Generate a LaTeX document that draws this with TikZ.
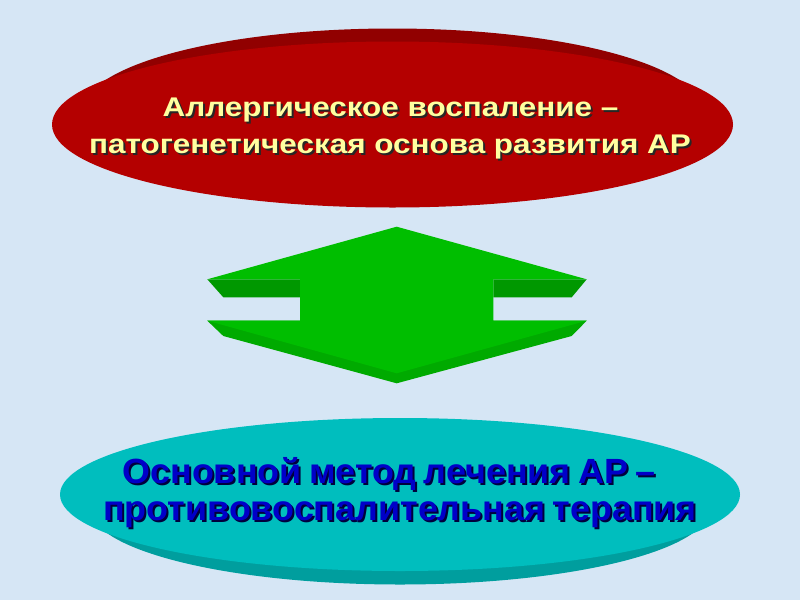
\documentclass[tikz,border=0pt]{standalone}
\usepackage{fontspec}
\setmainfont{Liberation Sans}
\newfontfamily\redfont[FakeStretch=1.165]{Liberation Sans}
\newfontfamily\bluefont[FakeStretch=1.025,WordSpace=0.75]{Liberation Sans}
\usetikzlibrary{shapes.geometric}
\definecolor{bg}{RGB}{214,230,245}
\definecolor{redface}{RGB}{180,0,0}
\definecolor{redband}{RGB}{145,0,0}
\definecolor{cyanface}{RGB}{0,190,190}
\definecolor{cyanband}{RGB}{0,158,158}
\definecolor{greenface}{RGB}{0,190,0}
\definecolor{greendark}{RGB}{0,152,0}
\definecolor{greenmid}{RGB}{0,170,0}
\definecolor{cream}{RGB}{255,255,160}
\definecolor{bluetext}{RGB}{0,0,200}
\definecolor{navyshadow}{RGB}{0,0,60}
\tikzset{
  disc/.style={ellipse, inner sep=0pt},
  redtxt/.style={anchor=base, inner sep=0pt, font=\redfont\bfseries\fontsize{27}{37}\selectfont},
  bluetxt/.style={anchor=base, inner sep=0pt, font=\bluefont\bfseries\fontsize{35}{37}\selectfont},
}
\begin{document}
\begin{tikzpicture}[x=1pt,y=-1pt]
\fill[bg] (0,0) rectangle (800,600);
\useasboundingbox (0,0) rectangle (800,600);
% red disc
\node[disc, fill=redband, minimum width=620pt, minimum height=166pt] (redback) at (392.5,111.5) {};
\node[disc, fill=redface, minimum width=681pt, minimum height=166pt] (redfront) at (392.5,124.5) {};
\node[redtxt, text=black!85] (redshadowa) at (392.5,118) {Аллергическое воспаление –};
\node[redtxt, text=cream] (redlinea) at (390.5,116) {Аллергическое воспаление –};
\node[redtxt, text=black!85] (redshadowb) at (392,155) {патогенетическая основа развития АР};
\node[redtxt, text=cream] (redlineb) at (390,153) {патогенетическая основа развития АР};
% green double arrow
\fill[greendark] (207.3,279.3) -- (300,279.3) -- (300,297.3) -- (223.3,297.3) -- cycle;
\fill[greendark] (493.3,279.3) -- (586.7,279.3) -- (571.7,297.3) -- (493.3,297.3) -- cycle;
\fill[greenmid] (207.3,320.7) -- (586.7,320.7) -- (571.7,336) -- (396.7,383.3) -- (223.3,336) -- cycle;
\fill[greenface] (396.7,226.7) -- (586.7,279.3) -- (493.3,279.3) -- (493.3,320.7) -- (586.7,320.7)
  -- (396.7,373.3) -- (207.3,320.7) -- (300,320.7) -- (300,279.3) -- (207.3,279.3) -- cycle;
% cyan disc
\node[disc, fill=cyanband, minimum width=620pt, minimum height=153pt] (cyanback) at (400,508) {};
\node[disc, fill=cyanface, minimum width=680pt, minimum height=153pt] (cyanfront) at (400,494.5) {};
\node[bluetxt, text=navyshadow] (blueshadowa) at (391,485) {Основной метод лечения АР –};
\node[bluetxt, text=bluetext] (bluelinea) at (389,483) {Основной метод лечения АР –};
\node[bluetxt, text=navyshadow] (blueshadowb) at (402,522) {противовоспалительная терапия};
\node[bluetxt, text=bluetext] (bluelineb) at (400,520) {противовоспалительная терапия};
\end{tikzpicture}
\end{document}
